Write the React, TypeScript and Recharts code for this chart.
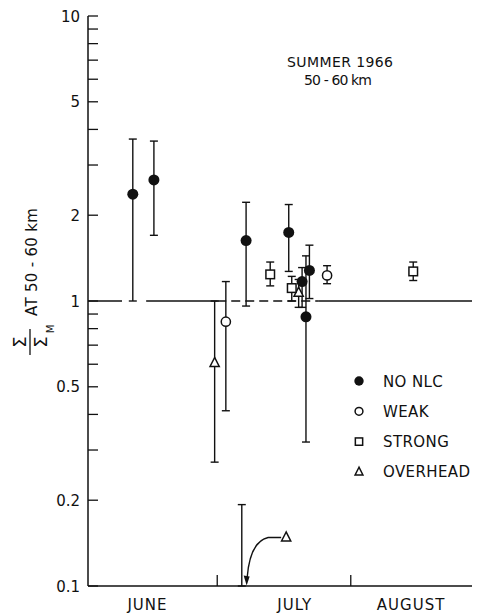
import { ScatterChart, Scatter, XAxis, YAxis, ErrorBar, ReferenceLine, Legend } from "recharts";

const FONT = "'DejaVu Sans', sans-serif";
const INK = "#111";

// x = days counted from 1 June 1966; v = ratio, lo/hi = ends of the error bar
const noNlc = [
  { day: 10.4, v: 2.37, lo: 1.0, hi: 3.7 },
  { day: 15.3, v: 2.66, lo: 1.7, hi: 3.64 },
  { day: 36.7, v: 1.63, lo: 0.96, hi: 2.22 },
  { day: 46.6, v: 1.74, lo: 1.27, hi: 2.18 },
  { day: 49.7, v: 1.17, lo: 0.95, hi: 1.31 },
  { day: 50.6, v: 0.88, lo: 0.32, hi: 1.44 },
  { day: 51.4, v: 1.28, lo: 1.02, hi: 1.57 },
];
const weak = [
  { day: 32.0, v: 0.846, lo: 0.412, hi: 1.17 },
  { day: 55.5, v: 1.23, lo: 1.15, hi: 1.33 },
];
const strong = [
  { day: 42.3, v: 1.24, lo: 1.13, hi: 1.37 },
  { day: 47.3, v: 1.11, lo: 1.0, hi: 1.22 },
  { day: 75.5, v: 1.27, lo: 1.18, hi: 1.37 },
];
const overhead = [
  { day: 29.4, v: 0.606, lo: 0.272, hi: 1.0 },
  { day: 48.9, v: 1.07, lo: 0.95, hi: 1.19 },
];
// overhead case that falls below 0.1: only the upper end of its bar is on the chart
const overheadOffscale = [{ day: 35.7, lo: 0.1, hi: 0.193 }];
// the triangle with the arrow pointing at it
const overheadNote = [{ day: 46.0, v: 0.148 }];

const yTicks = [0.1, 0.2, 0.3, 0.4, 0.5, 0.6, 0.7, 0.8, 0.9, 1, 2, 3, 4, 5, 6, 7, 8, 9, 10];
const yTickLabels = [0.1, 0.2, 0.5, 1, 2, 5, 10];
const monthLabels = ["JUNE", "JULY", "AUGUST"];
const monthLabelDays = [13.8, 48, 75];
const monthBoundaryDays = [30, 61];
const solidSpans = [[0, 7.9], [13.5, 30], [53.6, 91]];
const dashedSpans = [[30, 53.6]];

const withErr = (rows: { day: number; v: number; lo: number; hi: number }[]) =>
  rows.map((r) => ({ ...r, err: [r.v - r.lo, r.hi - r.v] }));

const Filled = (p: any, s = 1) => <circle cx={p.cx} cy={p.cy} r={5.5 * s} fill={INK} />;
const Open = (p: any, s = 1) => (
  <circle cx={p.cx} cy={p.cy} r={4.6 * s} fill="#fff" stroke={INK} strokeWidth={1.5} />
);
const Square = (p: any, s = 1) => (
  <rect x={p.cx - 4.3 * s} y={p.cy - 4.3 * s} width={8.6 * s} height={8.6 * s} fill="#fff" stroke={INK} strokeWidth={1.5} />
);
const Triangle = (p: any, s = 1) => (
  <polygon
    points={`${p.cx},${p.cy - 5.5 * s} ${p.cx - 4.6 * s},${p.cy + 3.5 * s} ${p.cx + 4.6 * s},${p.cy + 3.5 * s}`}
    fill="#fff"
    stroke={INK}
    strokeWidth={1.5}
  />
);
const Nothing = () => <g />;

// triangle with a leader curving down to the off-scale bar
const NoteShape = (p: any) => (
  <g>
    {Triangle(p)}
    <path
      d={`M${p.cx - 5},${p.cy} L${p.cx - 18},${p.cy} Q${p.cx - 36},${p.cy + 4} ${p.cx - 39},${p.cy + 40}`}
      fill="none"
      stroke={INK}
      strokeWidth={1.4}
    />
    <polygon
      points={`${p.cx - 39.5},${p.cy + 48} ${p.cx - 42.5},${p.cy + 38} ${p.cx - 36.5},${p.cy + 39}`}
      fill={INK}
    />
  </g>
);

const legendItems = [
  { label: "NO NLC", shape: Filled },
  { label: "WEAK", shape: Open },
  { label: "STRONG", shape: Square },
  { label: "OVERHEAD", shape: Triangle },
];

const renderLegend = () => (
  <svg width={135} height={125} style={{ display: "block" }}>
    {legendItems.map((it, i) => (
      <g key={it.label}>
        {it.shape({ cx: 10, cy: 14 + i * 30.3 }, 0.85)}
        <text x={34} y={14 + i * 30.3 + 5.5} fontSize={15} fontFamily={FONT} fill={INK} letterSpacing={0.4}>
          {it.label}
        </text>
      </g>
    ))}
  </svg>
);

const YTick = ({ x, y, payload }: any) => {
  const labelled = yTickLabels.includes(payload.value);
  return (
    <g>
      <line x1={x + 8} x2={x + 18} y1={y} y2={y} stroke={INK} strokeWidth={1.3} />
      {labelled && (
        <text x={x} y={y + 5.5} textAnchor="end" fontSize={15} fontFamily={FONT} fill={INK}>
          {String(payload.value)}
        </text>
      )}
    </g>
  );
};

const XTick = ({ x, y, payload }: any) => {
  const i = monthLabelDays.indexOf(payload.value);
  if (i >= 0)
    return (
      <text x={x} y={y + 24} textAnchor="middle" fontSize={15} fontFamily={FONT} fill={INK} letterSpacing={1}>
        {monthLabels[i]}
      </text>
    );
  return <line x1={x} x2={x} y1={y} y2={y - 11} stroke={INK} strokeWidth={1.3} />;
};

const YTitle = () => (
  <g fill={INK} fontFamily={FONT}>
    <text transform="translate(11,334) rotate(-90)" textAnchor="middle" dominantBaseline="central" fontSize={18}>
      Σ
    </text>
    <line x1={22} x2={22} y1={321} y2={347} stroke={INK} strokeWidth={1.3} />
    <text transform="translate(32,334) rotate(-90)" textAnchor="middle" dominantBaseline="central" fontSize={18}>
      Σ
    </text>
    <text transform="translate(42,321) rotate(-90)" textAnchor="middle" dominantBaseline="central" fontSize={10}>
      M
    </text>
    <text transform="translate(29,308) rotate(-90)" fontSize={15} letterSpacing={0.3}>
      AT 50 - 60 km
    </text>
  </g>
);

export default function App() {
  return (
    <div style={{ width: 472, height: 606, fontFamily: FONT }}>
      <ScatterChart width={472} height={606} margin={{ top: 8, right: 0, bottom: 0, left: 0 }}>
        <XAxis
          type="number"
          dataKey="day"
          domain={[0, 91]}
          ticks={[...monthLabelDays, ...monthBoundaryDays].sort((a, b) => a - b)}
          interval={0}
          tickLine={false}
          tickSize={0}
          tickMargin={0}
          tick={XTick}
          height={28}
          axisLine={{ stroke: INK, strokeWidth: 1.5 }}
          allowDataOverflow
        />
        <YAxis
          type="number"
          dataKey="v"
          scale="log"
          domain={[0.1, 10]}
          ticks={yTicks}
          interval={0}
          tickLine={false}
          tickSize={0}
          tickMargin={8}
          tick={YTick}
          width={80}
          axisLine={{ stroke: INK, strokeWidth: 1.5 }}
          allowDataOverflow
        />
        {solidSpans.map(([a, b]) => (
          <ReferenceLine key={"s" + a} segment={[{ x: a, y: 1 }, { x: b, y: 1 }]} stroke={INK} strokeWidth={1.4} />
        ))}
        {dashedSpans.map(([a, b]) => (
          <ReferenceLine
            key={"d" + a}
            segment={[{ x: a, y: 1 }, { x: b, y: 1 }]}
            stroke={INK}
            strokeWidth={1.4}
            strokeDasharray="9 5"
          />
        ))}
        <Scatter
          data={overheadOffscale.map((r) => ({ day: r.day, v: r.lo, err: [0, r.hi - r.lo] }))}
          shape={Nothing}
          isAnimationActive={false}
          legendType="none"
        >
          <ErrorBar dataKey="err" direction="y" width={4} stroke={INK} strokeWidth={1.4} isAnimationActive={false} />
        </Scatter>
        <Scatter name="OVERHEAD" data={withErr(overhead)} shape={(p: any) => Triangle(p)} isAnimationActive={false}>
          <ErrorBar dataKey="err" direction="y" width={4} stroke={INK} strokeWidth={1.4} isAnimationActive={false} />
        </Scatter>
        <Scatter name="STRONG" data={withErr(strong)} shape={(p: any) => Square(p)} isAnimationActive={false}>
          <ErrorBar dataKey="err" direction="y" width={4} stroke={INK} strokeWidth={1.4} isAnimationActive={false} />
        </Scatter>
        <Scatter name="WEAK" data={withErr(weak)} shape={(p: any) => Open(p)} isAnimationActive={false}>
          <ErrorBar dataKey="err" direction="y" width={4} stroke={INK} strokeWidth={1.4} isAnimationActive={false} />
        </Scatter>
        <Scatter name="NO NLC" data={withErr(noNlc)} shape={(p: any) => Filled(p)} isAnimationActive={false}>
          <ErrorBar dataKey="err" direction="y" width={4} stroke={INK} strokeWidth={1.4} isAnimationActive={false} />
        </Scatter>
        <Scatter data={overheadNote} shape={NoteShape} isAnimationActive={false} legendType="none" />
        <Legend
          content={renderLegend}
          layout="vertical"
          align="center"
          verticalAlign="middle"
          wrapperStyle={{ left: 341, top: 359, width: 135, height: 125 }}
        />
        <text x={332} y={59} textAnchor="middle" fontSize={14} fontFamily={FONT} fill={INK} textLength={106} lengthAdjust="spacing">
          SUMMER 1966
        </text>
        <text x={330} y={77} textAnchor="middle" fontSize={14} fontFamily={FONT} fill={INK} textLength={68} lengthAdjust="spacing">
          50 - 60 km
        </text>
        <YTitle />
      </ScatterChart>
    </div>
  );
}
